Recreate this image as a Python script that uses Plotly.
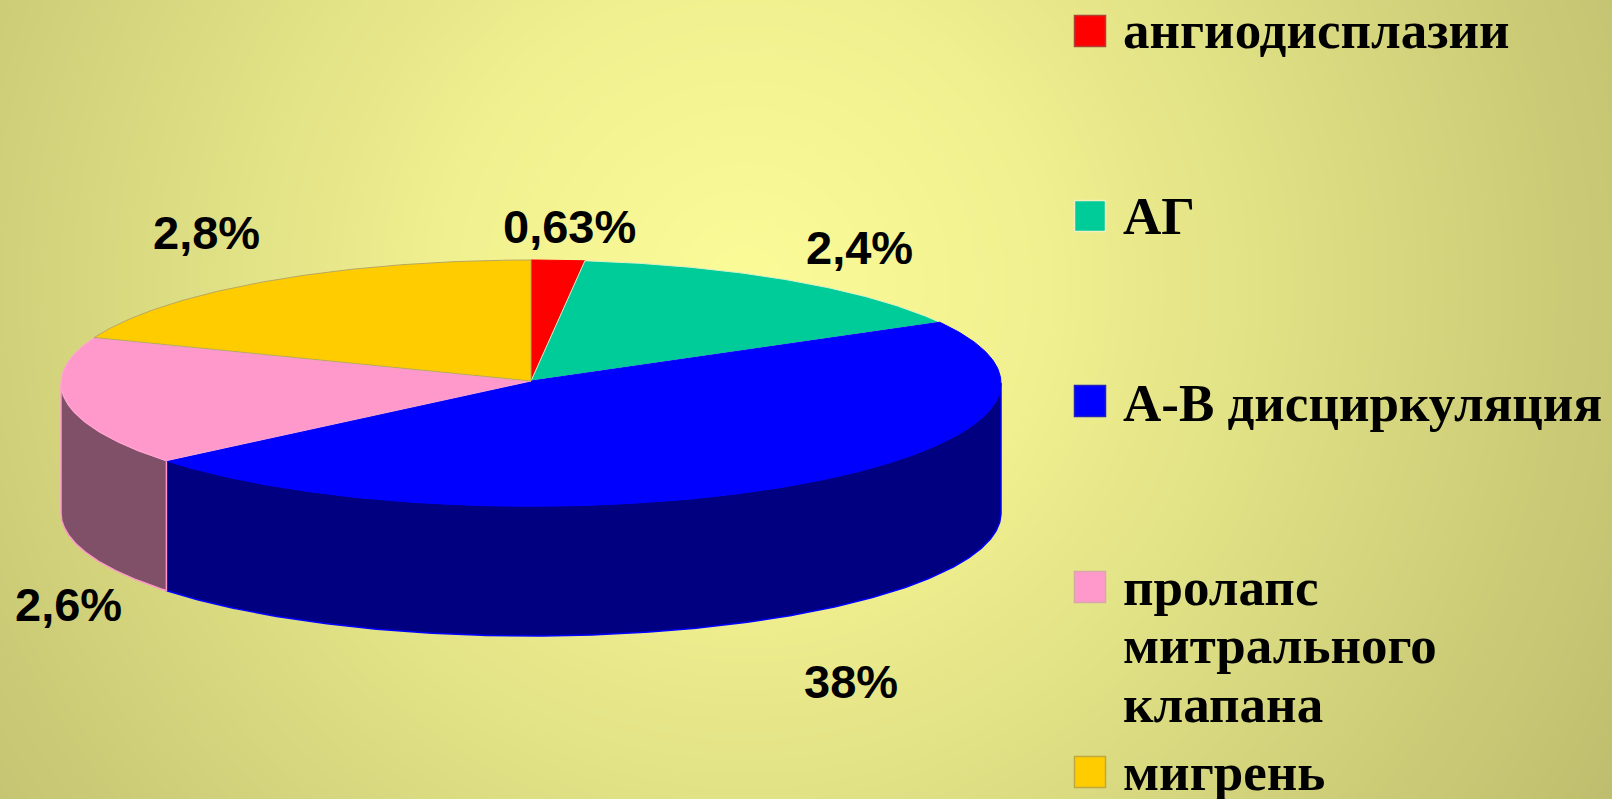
import numpy as np
import plotly.graph_objects as go

# ---- data ----
categories = ["ангиодисплазии", "АГ", "А-В дисциркуляция", "пролапс митрального клапана", "мигрень"]
value_labels = ["0,63%", "2,4%", "38%", "2,6%", "2,8%"]
# share of the circle that each slice covers in the drawing (percent)
slice_share = [1.83, 14.95, 47.35, 16.9, 18.97]

# ---- style ----
top_colors = ["#FF0000", "#00CC99", "#0000FF", "#FF99CC", "#FFCC00"]
side_colors = ["#800000", "#006650", "#000080", "#805068", "#806600"]
edge_colors = ["#FF0000", "#D8F2C8", "#0000FF", "#FFA8D4", "#B8A860"]
swatch_edges = ["#B04030", "#F0F0C0", "#2020C0", "#D8A8A8", "#C0A840"]

# ---- layout (page pixels) ----
W, H = 1612, 799
CX, CY, RX, RY, DEPTH = 531, 383, 470, 123, 130
PIVOT_Y = 381
label_pos = [(569, 226), (859, 247), (851, 681), (68, 604), (206, 232)]
swatch_pos = [(1090, 31), (1090, 216), (1090, 401), (1090, 587), (1090, 772)]
legend_y = [[30], [216], [403], [587, 645, 704], [772]]
legend_text = [["ангиодисплазии"], ["АГ"], ["А-В дисциркуляция"],
               ["пролапс", "митрального", "клапана"], ["мигрень"]]
LEGEND_X = 1121


def arc(a0, a1, dy=0.0):
    """Points on the rim between two clockwise-from-top angles (degrees)."""
    n = max(2, int(abs(a1 - a0) * 2))
    t = np.radians(np.linspace(a0, a1, n))
    return CX + RX * np.sin(t), CY - RY * np.cos(t) + dy


fig = go.Figure()

# radial page background
gx = np.linspace(0, W, 81)
gy = np.linspace(0, H, 41)
xx, yy = np.meshgrid(gx, gy)
fig.add_trace(go.Heatmap(
    x=gx, y=gy, z=np.hypot(xx - 745, yy - 285), zmin=0, zmax=1000, zsmooth="best",
    colorscale=[[0, "#FBFB98"], [0.3, "#F0F090"], [1, "#BEBE6E"]],
    showscale=False, hoverinfo="skip"))

edges = np.concatenate([[0], np.cumsum(slice_share)]) / sum(slice_share) * 360

# rim walls: only the front half of the rim (90..270 degrees) is seen
for i in range(len(categories)):
    a0, a1 = max(edges[i], 90), min(edges[i + 1], 270)
    if a1 <= a0:
        continue
    xt, yt = arc(a0, a1)
    xb, yb = arc(a1, a0, DEPTH)
    fig.add_trace(go.Scatter(
        x=np.r_[xt, xb, xt[0]], y=np.r_[yt, yb, yt[0]], mode="lines", fill="toself",
        fillcolor=side_colors[i], line=dict(color=top_colors[i], width=1.5),
        hoverinfo="skip", showlegend=False))

# top surface
for i in range(len(categories)):
    xa, ya = arc(edges[i], edges[i + 1])
    fig.add_trace(go.Scatter(
        x=np.r_[CX, xa, CX], y=np.r_[PIVOT_Y, ya, PIVOT_Y], mode="lines", fill="toself",
        fillcolor=top_colors[i], line=dict(color=edge_colors[i], width=1),
        name=categories[i], hoverinfo="name", showlegend=False))

# legend swatches
fig.add_trace(go.Scatter(
    x=[p[0] for p in swatch_pos], y=[p[1] for p in swatch_pos], mode="markers",
    marker=dict(symbol="square", size=31, color=top_colors,
                line=dict(color=swatch_edges, width=1.5)),
    hoverinfo="skip", showlegend=False))

annotations = []
for txt, (x, y) in zip(value_labels, label_pos):
    annotations.append(dict(x=x, y=y, text=f"<b>{txt}</b>", showarrow=False,
                            xanchor="center", yanchor="middle",
                            font=dict(family="Liberation Sans", size=47, color="#000000")))
for lines, ys in zip(legend_text, legend_y):
    for line, y in zip(lines, ys):
        annotations.append(dict(x=LEGEND_X, y=y, text=f"<b>{line}</b>", showarrow=False,
                                xanchor="left", yanchor="middle",
                                font=dict(family="Liberation Serif", size=53, color="#000000")))

fig.update_layout(
    width=W, height=H, margin=dict(l=0, r=0, t=0, b=0), showlegend=False,
    paper_bgcolor="#E0E088", plot_bgcolor="rgba(0,0,0,0)",
    xaxis=dict(range=[0, W], visible=False, fixedrange=True, constrain="domain"),
    yaxis=dict(range=[H, 0], visible=False, fixedrange=True),
    annotations=annotations,
)

fig.write_html("out.html", post_script="document.body.style.margin='0';document.documentElement.style.overflow='hidden';",
               config=dict(displayModeBar=False))
